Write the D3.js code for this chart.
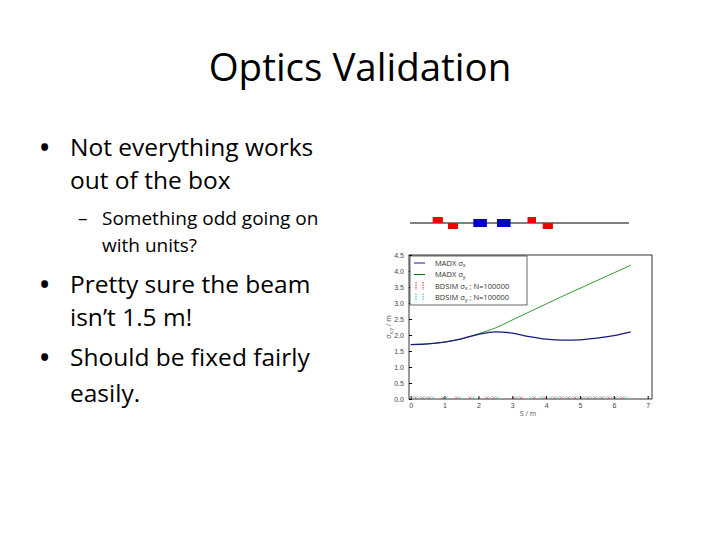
<!DOCTYPE html><html><head><script src="https://cdn.jsdelivr.net/npm/d3@7"></script>
<style>body{margin:0;background:#fff}</style></head><body><script>
const sVals=[0,0.5,1,1.5,2,2.5,3,3.5,4,4.5,5,5.5,6,6.5];
const sigX=[1.70,1.72,1.78,1.88,2.02,2.10,2.06,1.95,1.87,1.84,1.85,1.90,1.98,2.10];
const sigY=[1.70,1.72,1.78,1.88,2.04,2.22,2.47,2.72,2.97,3.22,3.46,3.70,3.94,4.18];
const bdsimS=[0.05,0.15,0.25,0.35,0.45,0.55,0.65,0.95,1.05,1.35,1.45,1.75,1.85,2.25,2.35,2.45,2.55,3.05,3.15,3.25,3.55,3.65,3.85,3.95,4.15,4.25,4.35,4.45,4.55,4.65,4.75,4.85,4.95,5.05,5.15,5.25,5.35,5.45,5.55,5.65,5.75,5.85,5.95,6.05,6.15,6.25,6.35];
const bdsimVal=bdsimS.map(()=>0.02);
const xTicks=[0,1,2,3,4,5,6,7];
const yTicks=[0,0.5,1,1.5,2,2.5,3,3.5,4,4.5];
const magnets=[{s:[0.65,0.95],t:"f",c:"#e00"},{s:[1.1,1.4],t:"d",c:"#e00"},{s:[1.85,2.25],t:"c",c:"#0000c8"},{s:[2.55,2.95],t:"c",c:"#0000c8"},{s:[3.45,3.7],t:"f",c:"#e00"},{s:[3.9,4.2],t:"d",c:"#e00"}];
const W=720,H=540;
const svg=d3.select("body").append("svg").attr("width",W).attr("height",H).style("font-family","'Open Sans',sans-serif");
svg.append("text").attr("x",360).attr("y",81).attr("text-anchor","middle").attr("font-size",38.5).text("Optics Validation");
const lines=[["•",40,"Not everything works",70,156,24.5],["",0,"out of the box",70,189,24.5],["–",78,"Something odd going on",102,225,19],["",0,"with units?",102,252,19],["•",40,"Pretty sure the beam",70,293,24.5],["",0,"isn’t 1.5 m!",70,326,24.5],["•",40,"Should be fixed fairly",70,366,24.5],["",0,"easily.",70,402,24.5]];
lines.forEach(l=>{if(l[0])svg.append("text").attr("x",l[1]).attr("y",l[4]).attr("font-size",l[5]).attr("font-weight",l[0]=="•"?"bold":"normal").text(l[0]);svg.append("text").attr("x",l[3]).attr("y",l[4]).attr("font-size",l[5]).text(l[2]);});
const x=d3.scaleLinear().domain([0,7]).range([410.7,647.7]);
const y=d3.scaleLinear().domain([0,4.5]).range([399,255]);
svg.append("line").attr("x1",410).attr("x2",629).attr("y1",223).attr("y2",223).attr("stroke","#000").attr("stroke-width",1);
magnets.forEach(m=>{const yy=m.t=="f"?217:m.t=="d"?223:219;svg.append("rect").attr("x",x(m.s[0])).attr("width",x(m.s[1])-x(m.s[0])).attr("y",yy).attr("height",m.t=="c"?8:6).attr("fill",m.c);});
const g=svg.append("g").attr("font-size",7).attr("fill","#333");
g.append("rect").attr("x",409).attr("y",255).attr("width",243).attr("height",144).attr("fill","none").attr("stroke","#000").attr("stroke-width",0.8);
g.append("g").attr("transform","translate(0,399)").call(d3.axisBottom(x).tickValues(xTicks).tickSize(-3).tickFormat(d3.format("d"))).call(a=>{a.select(".domain").remove();a.selectAll("text").attr("font-size",7).attr("fill","#444").attr("dy","0.9em")});
g.append("g").attr("transform","translate(409,0)").call(d3.axisLeft(y).tickValues(yTicks).tickSize(-3).tickFormat(d3.format(".1f"))).call(a=>{a.select(".domain").remove();a.selectAll("text").attr("font-size",7).attr("fill","#444").attr("dx","-0.3em")});
svg.append("text").attr("x",528).attr("y",416).attr("text-anchor","middle").attr("font-size",7).attr("fill","#555").text("S / m");
const yl=svg.append("text").attr("transform","translate(391,327) rotate(-90)").attr("text-anchor","middle").attr("font-size",7).attr("fill","#555");
yl.append("tspan").text("σ");yl.append("tspan").attr("font-size",5).attr("dy",1.5).text("x,y");yl.append("tspan").attr("dy",-1.5).text(" / m");
const ln=d3.line().x((d,i)=>x(sVals[i])).y(d=>y(d)).curve(d3.curveMonotoneX);
svg.append("path").attr("d",ln(sigY)).attr("fill","none").attr("stroke","#008000").attr("stroke-width",0.8);
svg.append("path").attr("d",ln(sigX)).attr("fill","none").attr("stroke","#1a1a80").attr("stroke-width",1.3);
bdsimS.forEach((s,i)=>{svg.append("path").attr("d",`M${x(s)-1.5},${y(bdsimVal[i])-2}L${x(s)+1.5},${y(bdsimVal[i])+1}M${x(s)+1.5},${y(bdsimVal[i])-2}L${x(s)-1.5},${y(bdsimVal[i])+1}`).attr("stroke",i%2?"#c44":"#4bc").attr("stroke-width",0.6);});
const lg=svg.append("g");
lg.append("rect").attr("x",410).attr("y",256).attr("width",117).attr("height",49).attr("fill","#fff").attr("stroke","#000").attr("stroke-width",0.6);
const items=[["MADX σ","x","","#1a1a80","l"],["MADX σ","y","","#008000","l"],["BDSIM σ","x"," ; N=100000","#d22","e"],["BDSIM σ","y"," ; N=100000","#2bc","e"]];
items.forEach((it,i)=>{const yy=263+i*11.5;
if(it[4]=="l")lg.append("line").attr("x1",414).attr("x2",425).attr("y1",yy).attr("y2",yy).attr("stroke",it[3]).attr("stroke-width",1);
else [416,423].forEach(xx=>lg.append("line").attr("x1",xx).attr("x2",xx).attr("y1",yy-4).attr("y2",yy+4).attr("stroke",it[3]).attr("stroke-width",1).attr("stroke-dasharray","1.5,1"));
const t=lg.append("text").attr("x",435).attr("y",yy+2.5).attr("font-size",7.5).attr("fill","#333");
t.append("tspan").text(it[0]);t.append("tspan").attr("font-size",5.5).attr("dy",1.5).text(it[1]);t.append("tspan").attr("dy",-1.5).text(it[2]);});
</script></body></html>
